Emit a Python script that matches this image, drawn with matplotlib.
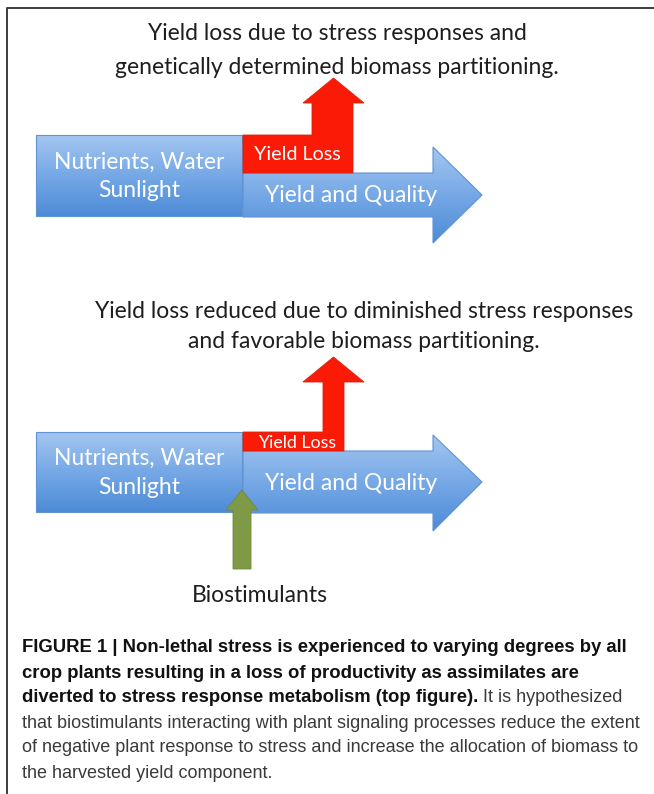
import numpy as np
import matplotlib
matplotlib.use("Agg")
import matplotlib.pyplot as plt
from matplotlib.patches import Polygon, Rectangle
from matplotlib.colors import LinearSegmentedColormap

# texts of the diagram
top_heading = ["Yield loss due to stress responses and",
               "genetically determined biomass partitioning."]
bottom_heading = ["Yield loss reduced due to diminished stress responses",
                  "and favorable biomass partitioning."]
input_label = "Nutrients, Water\nSunlight"
loss_label = "Yield Loss"
yield_label = "Yield and Quality"
booster_label = "Biostimulants"
caption_bold = ["FIGURE 1 | Non-lethal stress is experienced to varying degrees by all",
                "crop plants resulting in a loss of productivity as assimilates are",
                "diverted to stress response metabolism (top figure)."]
caption_plain = [" It is hypothesized",
                 "that biostimulants interacting with plant signaling processes reduce the extent",
                 "of negative plant response to stress and increase the allocation of biomass to",
                 "the harvested yield component."]

W, H = 654, 794
fig = plt.figure(figsize=(W / 100, H / 100), dpi=100)
ax = fig.add_axes([0, 0, 1, 1])
ax.set_xlim(0, W)
ax.set_ylim(H, 0)
ax.axis("off")

blue_cmap = LinearSegmentedColormap.from_list("blue", ["#a3c6f0", "#76a8e6", "#4d8bd6"])
grad = np.linspace(0, 1, 100).reshape(-1, 1)
TITLE_FONT = "Lato"
BIG = 16.5


def blue_shape(patch, y0, y1, x0, x1):
    patch.set_facecolor("none")
    patch.set_edgecolor("#5f93d2")
    patch.set_linewidth(0.8)
    ax.add_patch(patch)
    im = ax.imshow(grad, cmap=blue_cmap, aspect="auto", extent=(x0, x1, y1, y0),
                   origin="upper", zorder=1)
    im.set_clip_path(patch)
    patch.set_zorder(2)


def panel(box_top, box_bot, body_top, body_bot, head_top, head_bot,
          shaft_l, shaft_r, neck_y, tip_y, loss_size):
    # input box
    blue_shape(Rectangle((36, box_top), 206, box_bot - box_top), box_top, box_bot, 36, 242)
    # yield arrow
    mid = (body_top + body_bot) / 2
    arrow = Polygon([(243, body_top), (433, body_top), (433, head_top), (482, mid),
                     (433, head_bot), (433, body_bot), (243, body_bot)], closed=True)
    blue_shape(arrow, head_top, head_bot, 243, 482)
    # yield loss arrow
    red = Polygon([(243, box_top), (shaft_l, box_top), (shaft_l, neck_y), (303, neck_y),
                   (333.5, tip_y), (364, neck_y), (shaft_r, neck_y), (shaft_r, body_top),
                   (243, body_top)], closed=True, facecolor="#fb1a05",
                  edgecolor="#d8240f", linewidth=0.6, zorder=3)
    ax.add_patch(red)
    ax.text(139, (box_top + box_bot) / 2 + 1, input_label, ha="center", va="center",
            color="white", fontsize=BIG, family=TITLE_FONT, linespacing=1.45, zorder=4)
    ax.text(243 + 54, (box_top + body_top) / 2 + 1, loss_label, ha="center", va="center",
            color="white", fontsize=loss_size, family=TITLE_FONT, zorder=4)
    ax.text(351, mid + 1, yield_label, ha="center", va="center",
            color="white", fontsize=BIG, family=TITLE_FONT, zorder=4)


# headings
for i, line in enumerate(top_heading):
    ax.text(337, 33 + 34 * i, line, ha="center", va="center", color="#1e1e1e",
            fontsize=BIG, family=TITLE_FONT)
for i, line in enumerate(bottom_heading):
    ax.text(364, 312 + 29 * i, line, ha="center", va="center", color="#1e1e1e",
            fontsize=BIG, family=TITLE_FONT)

panel(135, 216, 173, 217, 147, 243, 312, 353, 103, 78, 14.2)
panel(432, 512, 451, 513, 435, 531, 323, 344, 382, 357, 12.8)

# biostimulant arrow
green = Polygon([(233, 569), (233, 510), (226, 510), (242, 490), (258, 510),
                 (251, 510), (251, 569)], closed=True, facecolor="#7f9a47",
                edgecolor="#6f8a3c", linewidth=0.6, zorder=5)
ax.add_patch(green)
ax.text(260, 595, booster_label, ha="center", va="center", color="#1e1e1e",
        fontsize=BIG, family=TITLE_FONT)

# frame
ax.plot([7, 7, W], [H, 7.5, 7.5], color="#3c3c3c", linewidth=1.4, solid_capstyle="butt")

# caption
last = None
for i, line in enumerate(caption_bold):
    last = ax.text(22, 648 + 25 * i, line, color="#111111", fontweight="bold",
                   fontsize=13.3, family="Liberation Sans", va="center", ha="left")
ax.annotate(caption_plain[0], xy=(1, 0.5), xycoords=last, color="#3a3a3a",
            fontsize=13.0, family="Liberation Sans", va="center", ha="left")
for i, line in enumerate(caption_plain[1:]):
    ax.text(22, 723 + 25 * i, line, color="#3a3a3a", fontsize=13.0,
            family="Liberation Sans", va="center", ha="left")

fig.savefig("out.png", dpi=100)
